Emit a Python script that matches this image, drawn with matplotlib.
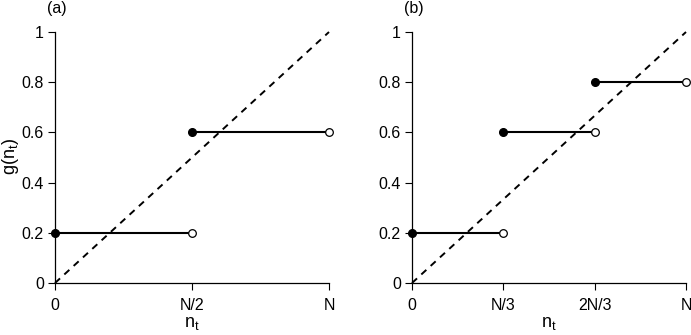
import numpy as np
import matplotlib.pyplot as plt

plt.rcParams['font.family'] = ['Liberation Sans', 'DejaVu Sans']

# panel (a): two intervals
a_starts = [0, 1/2]
a_ends = [1/2, 1]
a_vals = [0.2, 0.6]
a_ticks = [0, 1/2, 1]
a_ticklabels = ['0', 'N/2', 'N']

# panel (b): three intervals
b_starts = [0, 1/3, 2/3]
b_ends = [1/3, 2/3, 1]
b_vals = [0.2, 0.6, 0.8]
b_ticks = [0, 1/3, 2/3, 1]
b_ticklabels = ['0', 'N/3', '2N/3', 'N']

y_ticks = [0, 0.2, 0.4, 0.6, 0.8, 1]
y_ticklabels = ['0', '0.2', '0.4', '0.6', '0.8', '1']

W, H = 691, 335
fig = plt.figure(figsize=(W / 100, H / 100), dpi=100)
axa = fig.add_axes([55/W, 52/H, 274/W, 251/H])
axb = fig.add_axes([412/W, 52/H, 274/W, 251/H])


def panel(ax, starts, ends, vals, ticks, ticklabels, tag, tagx):
    ax.plot([0, 1], [0, 1], color='black', ls=(0, (3.5, 3)), lw=1.4, clip_on=False)
    for s, e, v in zip(starts, ends, vals):
        ax.plot([s, e], [v, v], color='black', lw=1.5, clip_on=False)
        ax.plot(s, v, 'o', ms=5.5, mfc='black', mec='black', clip_on=False, zorder=5)
        ax.plot(e, v, 'o', ms=5.5, mfc='white', mec='black', mew=0.9, clip_on=False, zorder=5)
    ax.set_xlim(0, 1)
    ax.set_ylim(0, 1)
    ax.spines['top'].set_visible(False)
    ax.spines['right'].set_visible(False)
    ax.spines['left'].set_linewidth(0.9)
    ax.spines['bottom'].set_linewidth(0.9)
    ax.set_xticks(ticks)
    ax.set_xticklabels(ticklabels)
    ax.set_yticks(y_ticks)
    ax.set_yticklabels(y_ticklabels)
    ax.tick_params(direction='out', length=5, width=0.8, labelsize=11.5)
    ax.tick_params(axis='y', pad=3)
    ax.tick_params(axis='x', pad=6)
    ax.set_xlabel('n$_\\mathregular{t}$', fontsize=13, labelpad=1)
    fig.text(tagx / W, 1 - 9 / H, tag, fontsize=11.5, ha='center', va='center')


panel(axa, a_starts, a_ends, a_vals, a_ticks, a_ticklabels, '(a)', 57)
panel(axb, b_starts, b_ends, b_vals, b_ticks, b_ticklabels, '(b)', 414)
fig.text(11 / W, 1 - 156 / H, 'g(n$_\\mathregular{t}$)', fontsize=13,
         rotation=90, ha='center', va='center')

fig.savefig('out.png', dpi=100)
